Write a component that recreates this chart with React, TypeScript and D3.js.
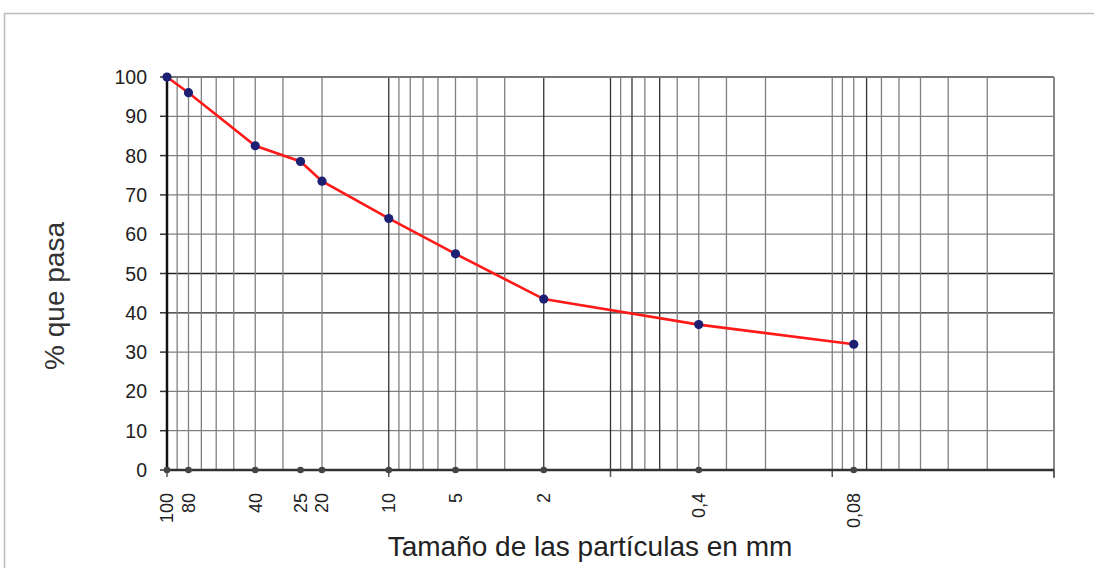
import React from "react";
import * as d3 from "d3";

const sizes = [100, 80, 40, 25, 20, 10, 5, 2, 0.4, 0.08];
const passing = [100, 96, 82.5, 78.5, 73.5, 64, 55, 43.5, 37, 32];
const sizeLabels = ["100", "80", "40", "25", "20", "10", "5", "2", "0,4", "0,08"];
const yTicks = [0, 10, 20, 30, 40, 50, 60, 70, 80, 90, 100];
const xGrid = [90, 80, 70, 60, 50, 40, 30, 20, 10, 9, 8, 7, 6, 5, 4, 3, 2, 1, 0.9, 0.8, 0.7, 0.6, 0.5, 0.4, 0.3, 0.2, 0.1, 0.09, 0.08, 0.07, 0.06, 0.05, 0.04, 0.03, 0.02];
const xGridDark = [10, 2, 1, 0.8, 0.6, 0.07];
const yGridDark = [40, 50];
const decadeTicks = [100, 10, 1, 0.1, 0.01];

const W = 1094;
const H = 568;
const FONT = "'Liberation Sans', Arial, Helvetica, sans-serif";

export default function App() {
  const x = d3.scaleLog().domain([100, 0.01]).range([167, 1054]);
  const y = d3.scaleLinear().domain([0, 100]).range([470, 77]);
  const pts: [number, number][] = sizes.map((s, i) => [x(s), y(passing[i])]);
  const line = d3.line();
  const x0 = x.range()[0];
  const x1 = x.range()[1];
  const yTop = y(100);
  const yBot = y(0);

  return (
    <svg width={W} height={H} style={{ position: "absolute", left: 0, top: 0, background: "#fff" }} fontFamily={FONT}>
      <rect x={4.5} y={13.5} width={W + 10} height={H + 10} fill="#fff" stroke="#bdbdbd" strokeWidth={1.5} />
      {yTicks.filter((t) => t > 0).map((t) => (
        <line key={"hy" + t} x1={x0} x2={x1} y1={y(t)} y2={y(t)}
          stroke={yGridDark.includes(t) ? "#222" : "#808080"} strokeWidth={1.3} />
      ))}
      {xGrid.map((v) => (
        <line key={"vx" + v} x1={x(v)} x2={x(v)} y1={yTop} y2={yBot}
          stroke={xGridDark.includes(v) ? "#333" : "#808080"} strokeWidth={1.3} />
      ))}
      <line x1={x0} x2={x1} y1={yTop} y2={yTop} stroke="#777" strokeWidth={2} />
      <line x1={x1} x2={x1} y1={yTop} y2={yBot + 8} stroke="#888" strokeWidth={2} />
      {yTicks.map((t) => (
        <g key={"yt" + t}>
          <line x1={x0 - 7} x2={x0} y1={y(t)} y2={y(t)} stroke="#333" strokeWidth={1.5} />
          <text x={147} y={y(t)} dy="0.36em" textAnchor="end" fontSize={19.5} fill="#222">{t}</text>
        </g>
      ))}
      {decadeTicks.map((d) => (
        <line key={"dt" + d} x1={x(d)} x2={x(d)} y1={yBot} y2={yBot + 7} stroke="#555" strokeWidth={1.5} />
      ))}
      <line x1={x0} x2={x1} y1={yBot} y2={yBot} stroke="#333" strokeWidth={2.5} />
      <line x1={x0} x2={x0} y1={yTop} y2={yBot} stroke="#111" strokeWidth={2.5} />
      {sizes.map((s, i) => (
        <g key={"xl" + s}>
          <circle cx={x(s)} cy={yBot} r={3.3} fill="#444" />
          <text transform={`translate(${x(s)},493) rotate(-90)`} dy="0.36em" textAnchor="end" fontSize={18} fill="#222">{sizeLabels[i]}</text>
        </g>
      ))}
      <path d={line(pts) || ""} fill="none" stroke="#ff1a1a" strokeWidth={2.6} />
      {pts.map((p, i) => (
        <circle key={"pt" + i} cx={p[0]} cy={p[1]} r={4.6} fill="#1c1f72" />
      ))}
      <text transform="translate(64,296) rotate(-90)" textAnchor="middle" fontSize={28} fill="#333">% que pasa</text>
      <text x={590} y={556} textAnchor="middle" fontSize={28} fill="#222">Tamaño de las partículas en mm</text>
    </svg>
  );
}
